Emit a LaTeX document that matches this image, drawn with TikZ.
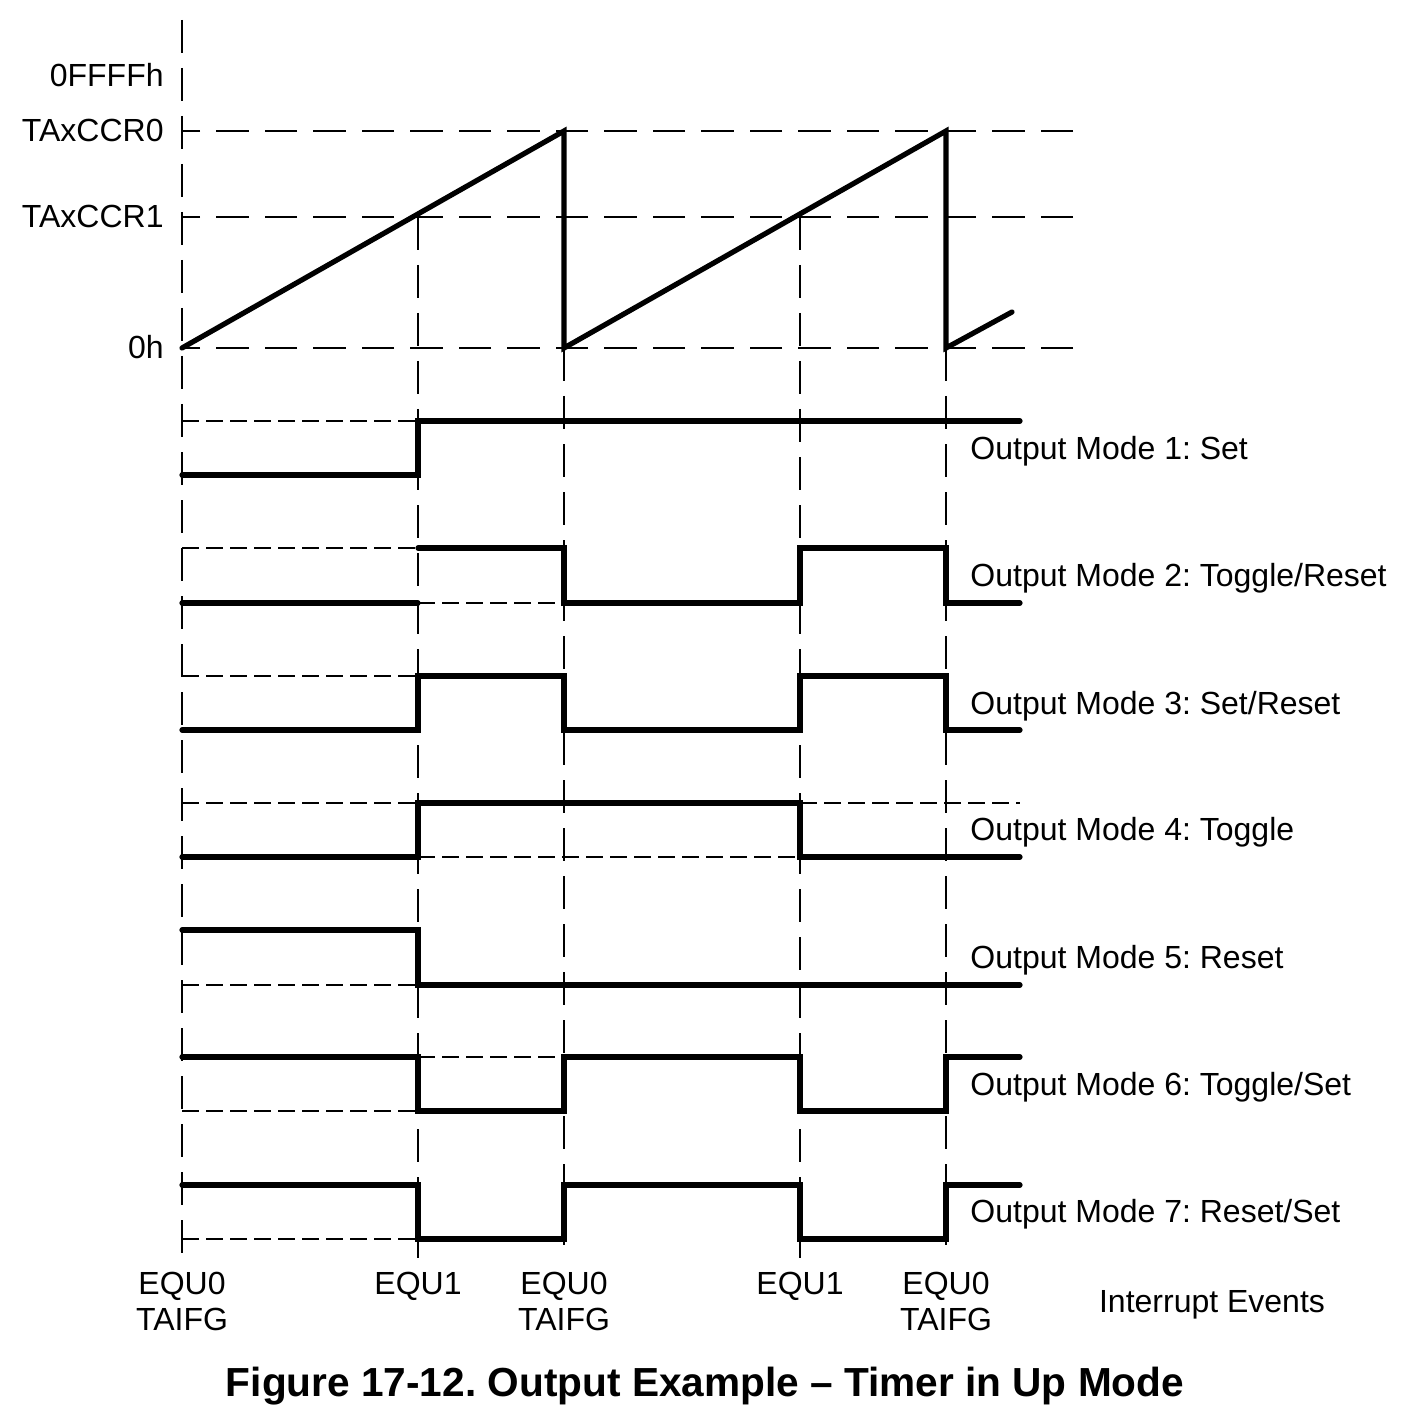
\documentclass[tikz,border=0pt]{standalone}
\usepackage{fontspec}
\setmainfont{Liberation Sans}
\frenchspacing
\begin{document}
\begin{tikzpicture}[x=0.5pt,y=-0.5pt,
  sig/.style={line width=2.6pt, line cap=round, line join=miter},
  axisdash/.style={line width=0.9pt, dash pattern=on 16.5pt off 7.5pt},
  leveldash/.style={line width=0.9pt, dash pattern=on 16.25pt off 8pt},
  refdash/.style={line width=0.8pt, dash pattern=on 8.5pt off 3.5pt},
  lbl/.style={inner sep=0pt, font=\fontsize{16}{19}\selectfont},
  captext/.style={inner sep=0pt, font=\bfseries\fontsize{20.3}{24}\selectfont}]
\useasboundingbox[fill=white] (0,0) rectangle (1404,1422);

% vertical event lines
\draw[axisdash] (182,20) -- (182,1258);
\draw[axisdash] (418,217) -- (418,1258);
\draw[axisdash] (564,348) -- (564,1258);
\draw[axisdash] (800,217) -- (800,1258);
\draw[axisdash] (946,348) -- (946,1258);

% counter level lines (drawn from the right so they end on a full dash)
\draw[leveldash] (1073,131) -- (182,131);
\draw[leveldash] (1073,217) -- (182,217);
\draw[leveldash] (1073,348) -- (182,348);

% counter sawtooth
\draw[sig] (182,348) -- (564,131) -- (564,348) -- (946,131) -- (946,348) -- (1012,312);

% level labels
\node[lbl, anchor=base east] (lffff) at (164,87) {0FFFFh};
\node[lbl, anchor=base east] (lccr0) at (164,142) {TAxCCR0};
\node[lbl, anchor=base east] (lccr1) at (164,228) {TAxCCR1};
\node[lbl, anchor=base east] (lzero) at (164,359) {0h};

% Mode 1
\draw[refdash] (182,421) -- (418,421);
\draw[sig] (182,475) -- (418,475) -- (418,421) -- (1020,421);
\node[lbl, anchor=base west] (m1) at (970,459) {Output Mode 1: Set};

% Mode 2
\draw[refdash] (182,548) -- (418,548);
\draw[refdash] (418,603) -- (564,603);
\draw[sig] (182,603) -- (418,603);
\draw[sig] (418,548) -- (564,548) -- (564,603) -- (800,603) -- (800,548) -- (946,548) -- (946,603) -- (1020,603);
\node[lbl, anchor=base west] (m2) at (970,586) {Output Mode 2: Toggle/Reset};

% Mode 3
\draw[refdash] (182,676) -- (418,676);
\draw[sig] (182,730) -- (418,730) -- (418,676) -- (564,676) -- (564,730) -- (800,730) -- (800,676) -- (946,676) -- (946,730) -- (1020,730);
\node[lbl, anchor=base west] (m3) at (970,714) {Output Mode 3: Set/Reset};

% Mode 4
\draw[refdash] (182,803) -- (418,803);
\draw[refdash] (418,857) -- (800,857);
\draw[refdash] (800,803) -- (1020,803);
\draw[sig] (182,857) -- (418,857) -- (418,803) -- (800,803) -- (800,857) -- (1020,857);
\node[lbl, anchor=base west] (m4) at (970,840) {Output Mode 4: Toggle};

% Mode 5
\draw[refdash] (182,985) -- (418,985);
\draw[sig] (182,930) -- (418,930) -- (418,985) -- (1020,985);
\node[lbl, anchor=base west] (m5) at (970,968) {Output Mode 5: Reset};

% Mode 6
\draw[refdash] (182,1111) -- (418,1111);
\draw[refdash] (418,1057) -- (564,1057);
\draw[sig] (182,1057) -- (418,1057) -- (418,1111) -- (564,1111) -- (564,1057) -- (800,1057) -- (800,1111) -- (946,1111) -- (946,1057) -- (1020,1057);
\node[lbl, anchor=base west] (m6) at (970,1095) {Output Mode 6: Toggle/Set};

% Mode 7
\draw[refdash] (182,1239) -- (418,1239);
\draw[sig] (182,1185) -- (418,1185) -- (418,1239) -- (564,1239) -- (564,1185) -- (800,1185) -- (800,1239) -- (946,1239) -- (946,1185) -- (1020,1185);
\node[lbl, anchor=base west] (m7) at (970,1222) {Output Mode 7: Reset/Set};

% interrupt events
\node[lbl, anchor=base] (ev1a) at (182,1294) {EQU0};
\node[lbl, anchor=base] (ev1b) at (182,1330) {TAIFG};
\node[lbl, anchor=base] (ev2a) at (418,1294) {EQU1};
\node[lbl, anchor=base] (ev3a) at (564,1294) {EQU0};
\node[lbl, anchor=base] (ev3b) at (564,1330) {TAIFG};
\node[lbl, anchor=base] (ev4a) at (800,1294) {EQU1};
\node[lbl, anchor=base] (ev5a) at (946,1294) {EQU0};
\node[lbl, anchor=base] (ev5b) at (946,1330) {TAIFG};
\node[lbl, anchor=base] (evl) at (1212,1312) {Interrupt Events};

% caption
\node[captext, anchor=base] (caption) at (705,1396) {Figure 17-12. Output Example -- Timer in Up Mode};
\end{tikzpicture}
\end{document}
